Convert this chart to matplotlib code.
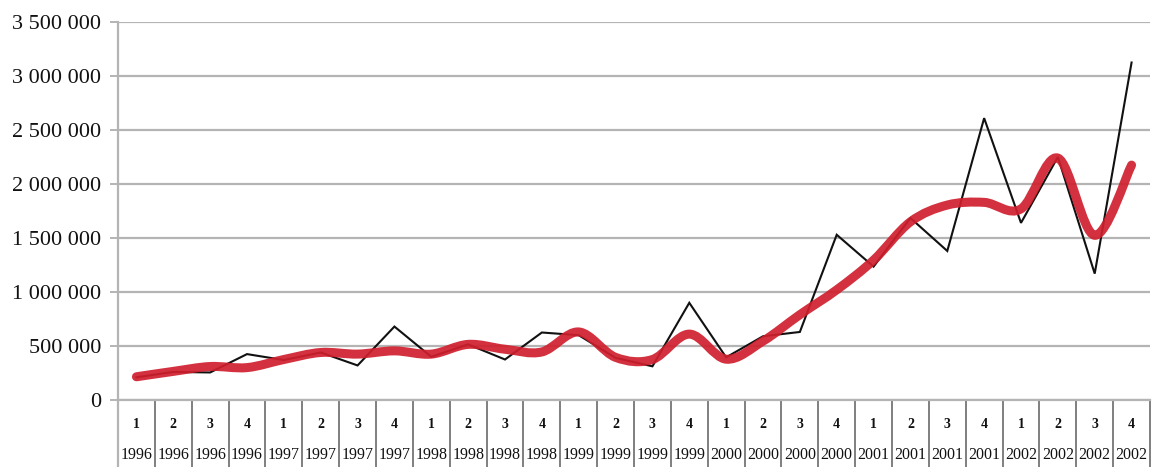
import numpy as np
import matplotlib
matplotlib.use("Agg")
import matplotlib.pyplot as plt
from matplotlib.path import Path
from matplotlib.patches import PathPatch
from matplotlib.transforms import blended_transform_factory

# Quarterly series, 1996 Q1 .. 2002 Q4
years = ["1996"] * 4 + ["1997"] * 4 + ["1998"] * 4 + ["1999"] * 4 + \
        ["2000"] * 4 + ["2001"] * 4 + ["2002"] * 4
quarters = ["1", "2", "3", "4"] * 7

actual = [210000, 260000, 255000, 425000,
          370000, 440000, 320000, 680000,
          400000, 515000, 375000, 625000,
          600000, 390000, 312000, 900000,
          395000, 590000, 630000, 1530000,
          1235000, 1685000, 1380000, 2610000,
          1640000, 2250000, 1170000, 3125000]

trend = [215000, 265000, 310000, 300000,
         375000, 440000, 425000, 455000,
         425000, 515000, 470000, 445000,
         630000, 395000, 375000, 610000,
         378000, 545000, 790000, 1020000,
         1295000, 1650000, 1805000, 1830000,
         1770000, 2240000, 1525000, 2175000]

y_ticks = [0, 500000, 1000000, 1500000, 2000000, 2500000, 3000000, 3500000]


def smooth_path(xs, ys, tension=1.0 / 6.0):
    """Cubic Bezier path through the points (spreadsheet-style smoothing)."""
    xs = np.asarray(xs, float)
    ys = np.asarray(ys, float)
    n = len(xs)
    verts = [(xs[0], ys[0])]
    codes = [Path.MOVETO]
    for i in range(n - 1):
        p0 = (xs[max(i - 1, 0)], ys[max(i - 1, 0)])
        p1 = (xs[i], ys[i])
        p2 = (xs[i + 1], ys[i + 1])
        p3 = (xs[min(i + 2, n - 1)], ys[min(i + 2, n - 1)])
        c1 = (p1[0] + (p2[0] - p0[0]) * tension, p1[1] + (p2[1] - p0[1]) * tension)
        c2 = (p2[0] - (p3[0] - p1[0]) * tension, p2[1] - (p3[1] - p1[1]) * tension)
        verts += [c1, c2, p2]
        codes += [Path.CURVE4] * 3
    return Path(verts, codes)


plt.rcParams["font.family"] = ["Liberation Serif", "DejaVu Serif"]

fig = plt.figure(figsize=(11.52, 4.67), dpi=100)
ax = fig.add_axes([118 / 1152, 67 / 467, 1032 / 1152, 378 / 467])

x = np.arange(len(actual))
ax.set_xlim(-0.5, len(actual) - 0.5)
ax.set_ylim(0, 3500000)

grid_col = "#b4b4b4"
for v in y_ticks:
    ax.axhline(v, color=grid_col, lw=1.6, zorder=1)

ax.plot(x, actual, color="#111111", lw=1.5, zorder=3, solid_joinstyle="miter")
ax.add_patch(PathPatch(smooth_path(x, trend), facecolor="none",
                       edgecolor="#d01f2e", lw=6.5, alpha=0.92,
                       capstyle="round", joinstyle="round", zorder=4))

for s in ["top", "right", "bottom"]:
    ax.spines[s].set_visible(False)
ax.spines["left"].set_color(grid_col)
ax.spines["left"].set_linewidth(1.6)

ax.set_yticks(y_ticks)
ax.set_yticklabels([f"{v:,.0f}".replace(",", " ") for v in y_ticks],
                   fontsize=16, color="#111111")
ax.tick_params(axis="y", length=6, width=1.4, color=grid_col, pad=6)
ax.set_xticks([])

# Two-row category axis drawn as boxed cells
trans = blended_transform_factory(ax.transData, ax.transAxes)
for k in range(len(actual) + 1):
    ax.plot([k - 0.5, k - 0.5], [0, -0.2], transform=trans, color="#6a6a6a",
            lw=1.2, clip_on=False, zorder=2)
ax.plot([-0.5, len(actual) - 0.5], [0, 0], transform=trans, color=grid_col,
        lw=1.6, clip_on=False, zorder=2)
ax.plot([-0.5, -0.5], [0, -0.2], transform=trans, color=grid_col,
        lw=1.6, clip_on=False, zorder=2)

for i, (q, yr) in enumerate(zip(quarters, years)):
    ax.text(i, -0.066, q, transform=trans, ha="center", va="center",
            fontsize=10, fontweight="bold", color="#111111")
    ax.text(i, -0.146, yr, transform=trans, ha="center", va="center",
            fontsize=11.5, color="#111111")

fig.savefig("out.png", dpi=100, facecolor="white")
